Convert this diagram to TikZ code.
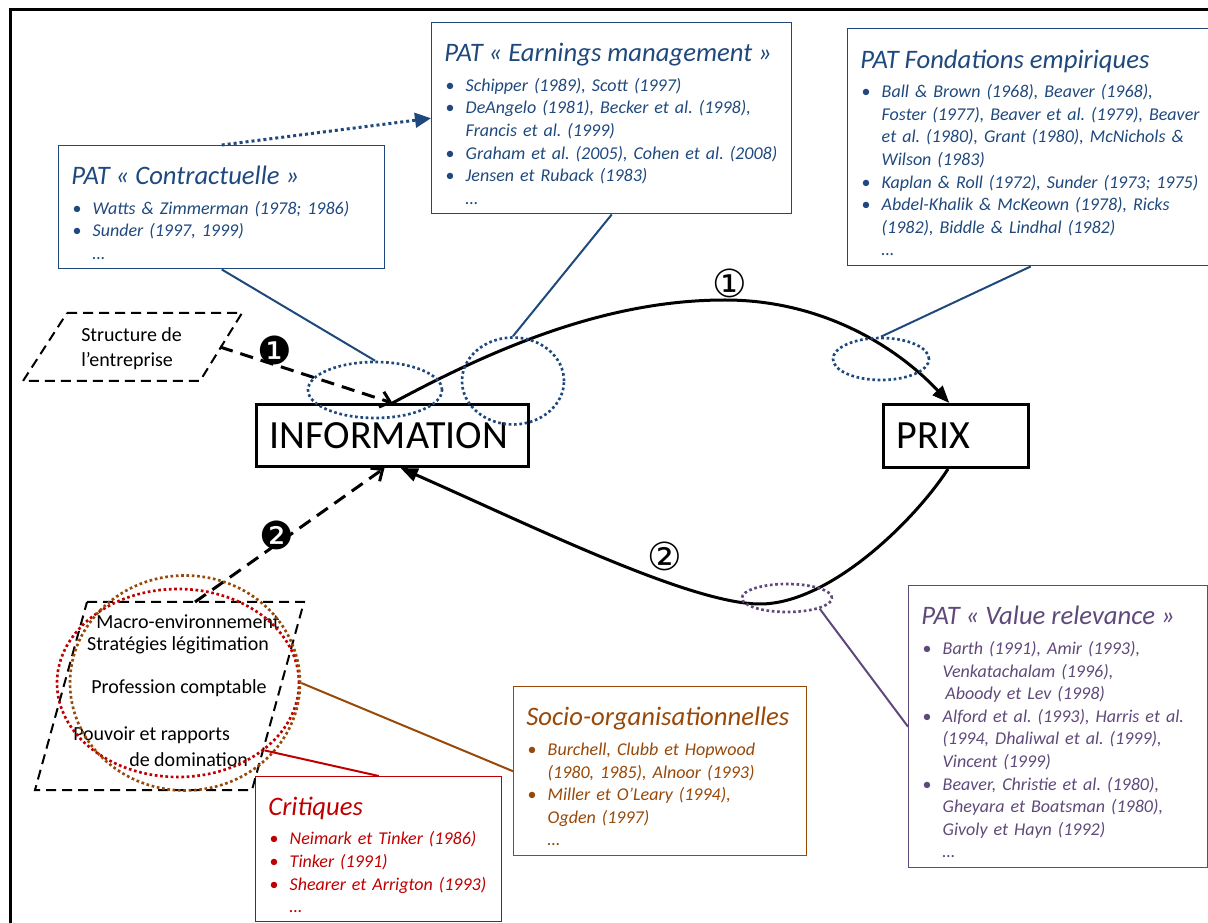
\documentclass[tikz,border=0pt]{standalone}
\usepackage{fontspec}
\setmainfont{Carlito}
\newfontfamily\symfont{DejaVu Sans}
\usetikzlibrary{arrows.meta,shapes.geometric}
\frenchspacing

\definecolor{patblue}{RGB}{31,73,125}
\definecolor{vrpurple}{RGB}{95,73,122}
\definecolor{sobrown}{RGB}{152,72,7}
\definecolor{critred}{RGB}{192,0,0}

\newcommand{\itm}{\makebox[16pt][l]{\upshape\hspace{1pt}\textbullet}}
\newcommand{\cnt}{\hspace*{16pt}}
\newcommand{\ttl}[1]{{\fontsize{20}{22}\selectfont\rule{0pt}{22pt}#1}\\[5.5pt]}

\tikzstyle{refbox}=[draw, line width=1.1pt, anchor=north west, inner xsep=9.5pt, inner ysep=0pt, align=left, font=\fontsize{13.5}{16.9}\selectfont\itshape]
\tikzstyle{mainbox}=[draw, line width=2.25pt, anchor=north west, inner xsep=10pt, inner ysep=0pt, align=left, font=\fontsize{30}{36}\selectfont]
\tikzstyle{lbl}=[inner sep=0pt, align=left, font=\fontsize{15}{18.75}\selectfont]
\tikzstyle{ring}=[ellipse, draw, inner sep=0pt, line width=2pt, dash pattern=on 2pt off 2pt]
\tikzstyle{link}=[line width=1.5pt]
\tikzstyle{hint}=[line width=2.25pt, dash pattern=on 2.25pt off 2.25pt, -{Triangle[length=12pt,width=11pt]}]
\tikzstyle{flow}=[line width=2.25pt, -{Triangle[length=13pt,width=10pt]}]
\tikzstyle{cause}=[line width=2.25pt, dash pattern=on 10pt off 6pt, -{Straight Barb[length=7pt,width=12pt]}]
\tikzstyle{dashbox}=[line width=1.5pt, dash pattern=on 7.5pt off 4.5pt]
\tikzstyle{num}=[inner sep=0pt, font=\symfont\fontsize{29}{29}\selectfont]

\begin{document}
\begin{tikzpicture}[x=0.75pt, y=-0.75pt]
    \useasboundingbox (0,0) rectangle (1208,923);
    \draw[line width=2.25pt] (10,923) -- (10,10) -- (1215,10);

    \node[refbox, draw=patblue, text=patblue, minimum width=244.5pt, minimum height=92.25pt, text width=225.5pt] (contr) at (58,145)
        {\ttl{PAT « Contractuelle »}\itm Watts \& Zimmerman (1978; 1986)\\\itm Sunder (1997, 1999)\\\cnt …};
    \node[refbox, draw=patblue, text=patblue, minimum width=270pt, minimum height=143.25pt, text width=251pt] (earn) at (431,22)
        {\ttl{PAT « Earnings management »}\itm Schipper (1989), Scott (1997)\\\itm DeAngelo (1981), Becker et al. (1998),\\\cnt Francis et al. (1999)\\\itm Graham et al. (2005), Cohen et al. (2008)\\\itm Jensen et Ruback (1983)\\\cnt …};
    \node[refbox, draw=patblue, text=patblue, minimum width=274.5pt, minimum height=177.75pt, text width=255.5pt] (fond) at (847,28)
        {\ttl{PAT Fondations empiriques}\itm Ball \& Brown (1968), Beaver (1968),\\\cnt Foster (1977), Beaver et al. (1979), Beaver\\\cnt et al. (1980), Grant (1980), McNichols \&\\\cnt Wilson (1983)\\\itm Kaplan \& Roll (1972), Sunder (1973; 1975)\\\itm Abdel-Khalik \& McKeown (1978), Ricks\\\cnt (1982), Biddle \& Lindhal (1982)\\\cnt …};
    \node[refbox, draw=vrpurple, text=vrpurple, minimum width=224.25pt, minimum height=211.5pt, text width=205.25pt] (vr) at (908,585)
        {\ttl{PAT « Value relevance »}\itm Barth (1991), Amir (1993),\\\cnt Venkatachalam (1996),\\\cnt\hspace{2pt}Aboody et Lev (1998)\\\itm Alford et al. (1993), Harris et al.\\\cnt (1994, Dhaliwal et al. (1999),\\\cnt Vincent (1999)\\\itm Beaver, Christie et al. (1980),\\\cnt Gheyara et Boatsman (1980),\\\cnt Givoly et Hayn (1992)\\\cnt …};
    \node[refbox, draw=sobrown, text=sobrown, minimum width=219.75pt, minimum height=126.75pt, text width=200.75pt] (socio) at (513,686)
        {\ttl{Socio-organisationnelles}\itm Burchell, Clubb et Hopwood\\\cnt (1980, 1985), Alnoor (1993)\\\itm Miller et O’Leary (1994),\\\cnt Ogden (1997)\\\cnt …};
    \node[refbox, draw=critred, text=critred, minimum width=184.5pt, minimum height=108.75pt, text width=165.5pt] (crit) at (255,776)
        {\ttl{Critiques}\itm Neimark et Tinker (1986)\\\itm Tinker (1991)\\\itm Shearer et Arrigton (1993)\\\cnt …};

    \node[mainbox, minimum width=204pt, minimum height=46.5pt, text width=184pt] (info) at (255,403) {INFORMATION};
    \node[mainbox, minimum width=108.75pt, minimum height=47.25pt, text width=88.75pt] (prix) at (882,403) {PRIX};

    \draw[dashbox] (67,313) -- (242,313) -- (200,381) -- (23,381) -- cycle;
    \node[lbl, anchor=west] (struct) at (81,349) {Structure de\\l’entreprise};
    \coordinate (structout) at (220,347);

    \draw[dashbox] (87,602) -- (304,602) -- (252,790) -- (35,790) -- cycle;
    \coordinate (macroout) at (195,602);
    \node[lbl] (macro) at (188,622) {Macro-environnement};
    \node[lbl] (strat) at (178,645) {Stratégies légitimation};
    \node[lbl] (prof) at (179,688) {Profession comptable};
    \node[lbl, anchor=west] (pouv) at (73,735) {Pouvoir et rapports};
    \node[lbl, anchor=west] (domi) at (129,760) {de domination};

    \coordinate (crest) at (725,300);
    \coordinate (trough) at (760,604);
    \draw[flow] (info.north) .. controls (500,345) and (610,300) .. (crest) .. controls (820,300) and (895,345) .. ([xshift=-5pt]prix.north);
    \draw[flow] ([xshift=-6pt]prix.south) .. controls (915,520) and (830,604) .. (trough) .. controls (690,604) and (530,525) .. ([xshift=6pt]info.south);
    \draw[cause] (structout) -- (info.north);
    \draw[cause] (macroout) -- ([xshift=-6pt]info.south);

    \node[num] (one) at (730,283) {①};
    \node[num] (two) at (665,556) {②};
    \node[num] (bone) at (275,350) {❶};
    \node[num] (btwo) at (277,535) {❷};

    \node[ring, patblue, minimum width=100.5pt, minimum height=42pt] (ringA) at (375,390) {};
    \node[ring, patblue, minimum width=76.5pt, minimum height=65.25pt] (ringB) at (513,381) {};
    \node[ring, patblue, minimum width=72pt, minimum height=31.5pt] (ringC) at (881,359) {};
    \node[ring, vrpurple, minimum width=67.5pt, minimum height=21pt] (ringD) at (787,598) {};
    \node[ring, critred, minimum width=181.5pt, minimum height=141pt] (ringE) at (178,683) {};
    \node[ring, sobrown, minimum width=172.5pt, minimum height=161.25pt] (ringF) at (185,683) {};

    \draw[hint, patblue] (contr.north) -- (earn.west);
    \draw[link, patblue] (contr.south) -- (ringA.north);
    \draw[link, patblue] (earn.south) -- (ringB.north);
    \draw[link, patblue] (fond.south) -- (ringC.north);
    \draw[link, vrpurple] (ringD.south east) -- (vr.west);
    \draw[link, sobrown] (ringF.east) -- (socio.west);
    \draw[link, critred] (ringE.south east) -- (crit.north);
\end{tikzpicture}
\end{document}
